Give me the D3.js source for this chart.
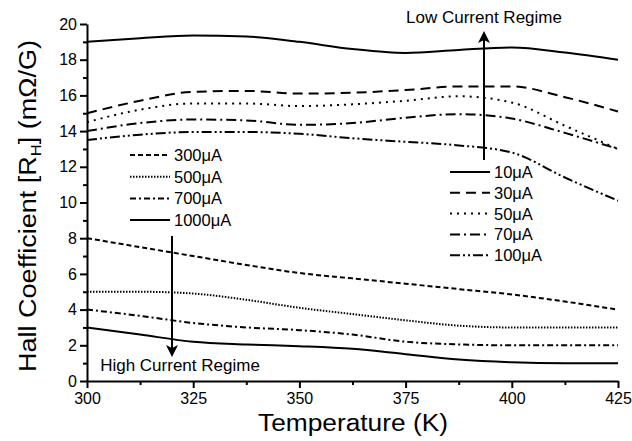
<!DOCTYPE html>
<html>
<head>
<meta charset="utf-8">
<script src="https://cdn.jsdelivr.net/npm/d3@7"></script>
<style>
  body { margin: 0; background: #fff; }
  svg text { font-family: "Liberation Sans", Arial, sans-serif; fill: #000; }
</style>
</head>
<body>
<div id="chart-area"></div>
<script>
// temperature points (K)
const temps = [300, 312.5, 325, 337.5, 350, 362.5, 375, 387.5, 400, 412.5, 425];

// low current regime
const r10 = [19.0, 19.2, 19.35, 19.3, 19.0, 18.6, 18.38, 18.55, 18.68, 18.4, 18.0];
const r30 = [15.0, 15.7, 16.2, 16.25, 16.1, 16.15, 16.3, 16.5, 16.5, 15.9, 15.1];
const r50 = [14.5, 15.2, 15.55, 15.55, 15.4, 15.5, 15.7, 15.95, 15.6, 14.3, 13.0];
const r70 = [14.0, 14.45, 14.65, 14.6, 14.35, 14.45, 14.75, 14.95, 14.7, 13.9, 13.0];
const r100 = [13.5, 13.8, 13.95, 13.95, 13.85, 13.6, 13.4, 13.2, 12.8, 11.4, 10.1];

// high current regime
const r300 = [8.0, 7.5, 7.0, 6.5, 6.05, 5.75, 5.45, 5.15, 4.85, 4.45, 4.0];
const r500 = [5.0, 5.0, 4.9, 4.55, 4.1, 3.75, 3.4, 3.1, 3.0, 3.0, 3.0];
const r700 = [4.0, 3.65, 3.25, 3.0, 2.85, 2.6, 2.2, 2.05, 2.0, 2.0, 2.0];
const r1000 = [3.0, 2.6, 2.2, 2.05, 1.95, 1.8, 1.5, 1.2, 1.05, 1.0, 1.0];

const xTicks = [300, 325, 350, 375, 400, 425];
const yTicks = [0, 2, 4, 6, 8, 10, 12, 14, 16, 18, 20];

const lowSeries = [
    { name: "10\u03BCA", values: r10, dash: null },
    { name: "30\u03BCA", values: r30, dash: "10,6" },
    { name: "50\u03BCA", values: r50, dash: "2,5" },
    { name: "70\u03BCA", values: r70, dash: "10,4,2,4" },
    { name: "100\u03BCA", values: r100, dash: "10,3,2,3,2,3" }
];
const highSeries = [
    { name: "300\u03BCA", values: r300, dash: "5,3" },
    { name: "500\u03BCA", values: r500, dash: "1.5,1.5" },
    { name: "700\u03BCA", values: r700, dash: "6,3,2,3" },
    { name: "1000\u03BCA", values: r1000, dash: null }
];

const width = 632, height = 441;
const svg = d3.select("#chart-area")
    .append("svg")
    .attr("width", width)
    .attr("height", height);

const x = d3.scaleLinear().domain([300, 425]).range([87, 618]);
const y = d3.scaleLinear().domain([0, 20]).range([381, 24]);

// minor ticks
svg.append("g")
    .attr("transform", "translate(0,381)")
    .call(d3.axisBottom(x).tickValues(d3.range(312.5, 425, 25)).tickSize(4).tickFormat(""))
    .call(g => g.select(".domain").remove())
    .selectAll("line").attr("stroke-width", 2);
svg.append("g")
    .attr("transform", "translate(87,0)")
    .call(d3.axisLeft(y).tickValues(d3.range(1, 20, 2)).tickSize(4).tickFormat(""))
    .call(g => g.select(".domain").remove())
    .selectAll("line").attr("stroke-width", 2);

// major axes
const xAxis = svg.append("g")
    .attr("transform", "translate(0,381)")
    .call(d3.axisBottom(x).tickValues(xTicks).tickSize(7).tickSizeOuter(0).tickPadding(5));
const yAxis = svg.append("g")
    .attr("transform", "translate(87,0)")
    .call(d3.axisLeft(y).tickValues(yTicks).tickSize(7).tickSizeOuter(0).tickPadding(3));

[xAxis, yAxis].forEach(g => {
    g.select(".domain").attr("stroke-width", 2);
    g.selectAll(".tick line").attr("stroke-width", 2);
    g.selectAll("text")
        .attr("font-family", "Liberation Sans, Arial, sans-serif")
        .attr("font-size", "16px")
        .attr("fill", "#000");
});

const line = d3.line()
    .x((d, i) => x(temps[i]))
    .y(d => y(d))
    .curve(d3.curveMonotoneX);

svg.selectAll("path.series")
    .data(lowSeries.concat(highSeries))
    .enter()
    .append("path")
    .attr("class", "series")
    .attr("d", d => line(d.values))
    .attr("fill", "none")
    .attr("stroke", "#000")
    .attr("stroke-width", 2)
    .attr("stroke-dasharray", d => d.dash);

// arrows
const defs = svg.append("defs");
defs.append("marker")
    .attr("id", "head")
    .attr("viewBox", "0 0 12 18")
    .attr("refX", 10)
    .attr("refY", 9)
    .attr("markerWidth", 12)
    .attr("markerHeight", 18)
    .attr("markerUnits", "userSpaceOnUse")
    .attr("orient", "auto")
    .append("path")
    .attr("d", "M0,3 L12,9 L0,15 L3,9 Z")
    .attr("fill", "#000");

svg.append("line")
    .attr("x1", 484).attr("y1", 160)
    .attr("x2", 484).attr("y2", 33)
    .attr("stroke", "#000").attr("stroke-width", 2)
    .attr("marker-end", "url(#head)");
svg.append("text")
    .attr("x", 484).attr("y", 23)
    .attr("text-anchor", "middle")
    .attr("font-size", "17px")
    .text("Low Current Regime");

svg.append("line")
    .attr("x1", 172).attr("y1", 236)
    .attr("x2", 172).attr("y2", 355)
    .attr("stroke", "#000").attr("stroke-width", 2)
    .attr("marker-end", "url(#head)");
svg.append("text")
    .attr("x", 180).attr("y", 371)
    .attr("text-anchor", "middle")
    .attr("font-size", "17px")
    .text("High Current Regime");

// legends
function legend(items, lx, ly, step) {
    const g = svg.append("g");
    items.forEach((d, i) => {
        const yy = ly + i * step;
        g.append("line")
            .attr("x1", lx).attr("x2", lx + 40)
            .attr("y1", yy).attr("y2", yy)
            .attr("stroke", "#000").attr("stroke-width", 2)
            .attr("stroke-dasharray", d.dash);
        g.append("text")
            .attr("x", lx + 44).attr("y", yy + 6)
            .attr("font-size", "16.5px")
            .text(d.name);
    });
}
legend(highSeries, 130, 155, 21.7);
legend(lowSeries, 450, 172, 20.8);

// axis titles
svg.append("text")
    .attr("x", 353).attr("y", 431)
    .attr("text-anchor", "middle")
    .attr("font-size", "23px")
    .attr("textLength", 190)
    .attr("lengthAdjust", "spacingAndGlyphs")
    .text("Temperature (K)");

const yt = svg.append("text")
    .attr("transform", "translate(36,206) rotate(-90)")
    .attr("text-anchor", "middle")
    .attr("font-size", "23px")
    .attr("textLength", 332)
    .attr("lengthAdjust", "spacingAndGlyphs");
yt.append("tspan").text("Hall Coefficient [R");
yt.append("tspan").attr("font-size", "14px").attr("dy", 5).text("H");
yt.append("tspan").attr("dy", -5).text("] (m\u03A9/G)");
</script>
</body>
</html>
